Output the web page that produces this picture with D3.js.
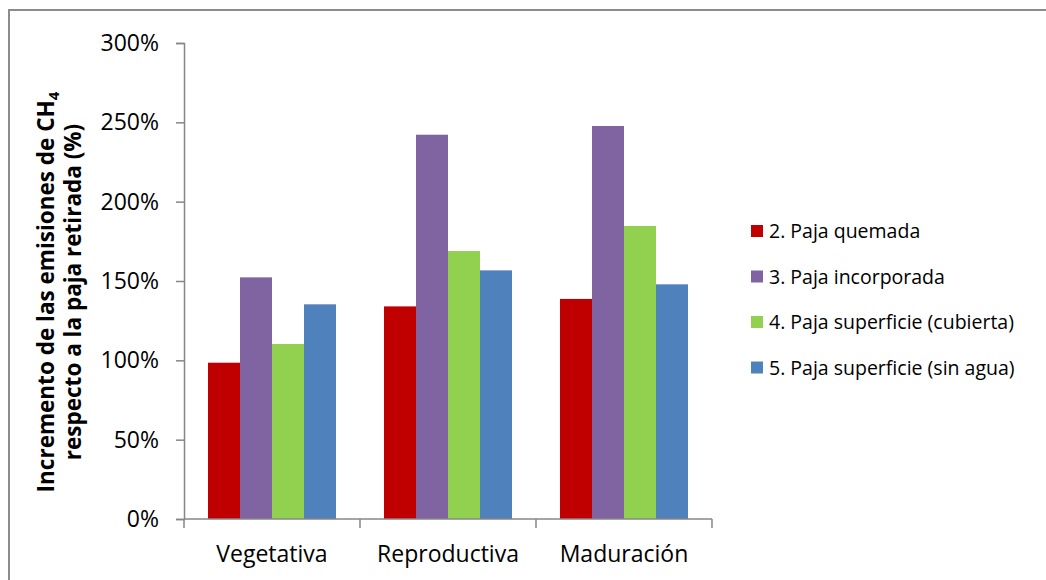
<!DOCTYPE html>
<html>
<head>
<meta charset="utf-8">
<script src="https://cdn.jsdelivr.net/npm/d3@7"></script>
<style>
  body { margin: 0; background: #fff; }
  svg { display: block; }
  text { font-family: "Open Sans", Lato, sans-serif; fill: #000; }
</style>
</head>
<body>
<svg id="drawing_region"></svg>
<script>
// data
const categories = ["Vegetativa", "Reproductiva", "Maduración"];
const seriesNames = ["2. Paja quemada", "3. Paja incorporada", "4. Paja superficie (cubierta)", "5. Paja superficie (sin agua)"];
const seriesColors = ["#c00000", "#8064a2", "#92d050", "#4f81bd"];
const quemada = [98.5, 134.0, 138.7];
const incorporada = [152.3, 242.2, 247.7];
const cubierta = [110.3, 168.9, 184.7];
const sinAgua = [135.3, 156.7, 147.9];
const yTicks = [0, 50, 100, 150, 200, 250, 300];

const seriesValues = [quemada, incorporada, cubierta, sinAgua];

const config = {
    width: 1046,
    height: 580,
    margin: {top: 43, right: 334, bottom: 61, left: 184},
};

const svg = d3.select('#drawing_region')
    .attr('width', config.width)
    .attr('height', config.height);

// outer frame (runs off the right and bottom edge)
svg.append('rect')
    .attr('x', 9).attr('y', 10)
    .attr('width', 1060).attr('height', 600)
    .attr('fill', 'none')
    .attr('stroke', '#8c8c8c')
    .attr('stroke-width', 2);

const inner_width = config.width - config.margin.left - config.margin.right;
const inner_height = config.height - config.margin.top - config.margin.bottom;

const chart = svg.append('g')
    .attr('transform', `translate(${config.margin.left}, ${config.margin.top})`);

const xscale = d3.scaleBand()
    .domain(categories)
    .range([0, inner_width])
    .paddingInner(0.2727)
    .paddingOuter(0.1364);

const xsub = d3.scaleBand()
    .domain(d3.range(seriesNames.length))
    .range([0, xscale.bandwidth()]);

const yscale = d3.scaleLinear()
    .domain([0, 300])
    .range([inner_height, 0]);

// bars
categories.forEach((c, ci) => {
    const g = chart.append('g')
        .attr('transform', `translate(${xscale(c)}, 0)`);
    g.selectAll('rect')
        .data(seriesValues.map((s, si) => ({si: si, v: s[ci]})))
        .enter()
        .append('rect')
        .attr('x', d => xsub(d.si))
        .attr('y', d => yscale(d.v))
        .attr('width', xsub.bandwidth())
        .attr('height', d => inner_height - yscale(d.v))
        .attr('fill', d => seriesColors[d.si]);
});

// y axis
const yaxis = d3.axisLeft(yscale)
    .tickValues(yTicks)
    .tickSize(8)
    .tickPadding(17)
    .tickFormat(d => d + '%');

const yaxis_group = chart.append('g').call(yaxis);
yaxis_group.select('.domain').attr('stroke', '#868686').attr('stroke-width', 1.5);
yaxis_group.selectAll('.tick line').attr('stroke', '#868686').attr('stroke-width', 1.5);
yaxis_group.selectAll('.tick text')
    .attr('font-family', '"Open Sans", Lato, sans-serif')
    .attr('font-size', '23px')
    .attr('fill', '#000');

// x axis with ticks between categories
const step = xscale.step();
const xaxis_group = chart.append('g')
    .attr('transform', `translate(0, ${inner_height})`);
xaxis_group.append('line')
    .attr('x1', 0).attr('x2', inner_width)
    .attr('y1', 0).attr('y2', 0)
    .attr('stroke', '#868686').attr('stroke-width', 1.5);
xaxis_group.selectAll('.sep')
    .data(d3.range(categories.length + 1))
    .enter()
    .append('line')
    .attr('x1', i => i * step)
    .attr('x2', i => i * step)
    .attr('y1', 0).attr('y2', 9)
    .attr('stroke', '#868686').attr('stroke-width', 1.5);
xaxis_group.selectAll('.lbl')
    .data(categories)
    .enter()
    .append('text')
    .attr('x', d => xscale(d) + xscale.bandwidth() / 2)
    .attr('y', 43)
    .attr('text-anchor', 'middle')
    .attr('font-size', '23px')
    .text(d => d);

// y title (two lines, bold, CH4 with subscript)
const ytitle = svg.append('g')
    .attr('transform', `translate(0, 292) rotate(-90)`);
const t1 = ytitle.append('text')
    .attr('x', 0).attr('y', 54)
    .attr('text-anchor', 'middle')
    .attr('font-weight', 'bold')
    .attr('font-size', '22.5px');
t1.append('tspan').text('Incremento de las emisiones de CH');
t1.append('tspan').attr('font-size', '15px').attr('dy', 5).text('4');
ytitle.append('text')
    .attr('x', 0).attr('y', 81)
    .attr('text-anchor', 'middle')
    .attr('font-weight', 'bold')
    .attr('font-size', '22.5px')
    .text('respecto a la paja retirada (%)');

// legend
const legend = svg.append('g')
    .attr('transform', 'translate(751, 231)');
const items = legend.selectAll('g')
    .data(seriesNames)
    .enter()
    .append('g')
    .attr('transform', (d, i) => `translate(0, ${i * 45.5})`);
items.append('rect')
    .attr('x', 0).attr('y', -6)
    .attr('width', 12).attr('height', 12)
    .attr('fill', (d, i) => seriesColors[i]);
items.append('text')
    .attr('x', 18).attr('y', 7)
    .attr('font-size', '19.5px')
    .text(d => d);
</script>
</body>
</html>
